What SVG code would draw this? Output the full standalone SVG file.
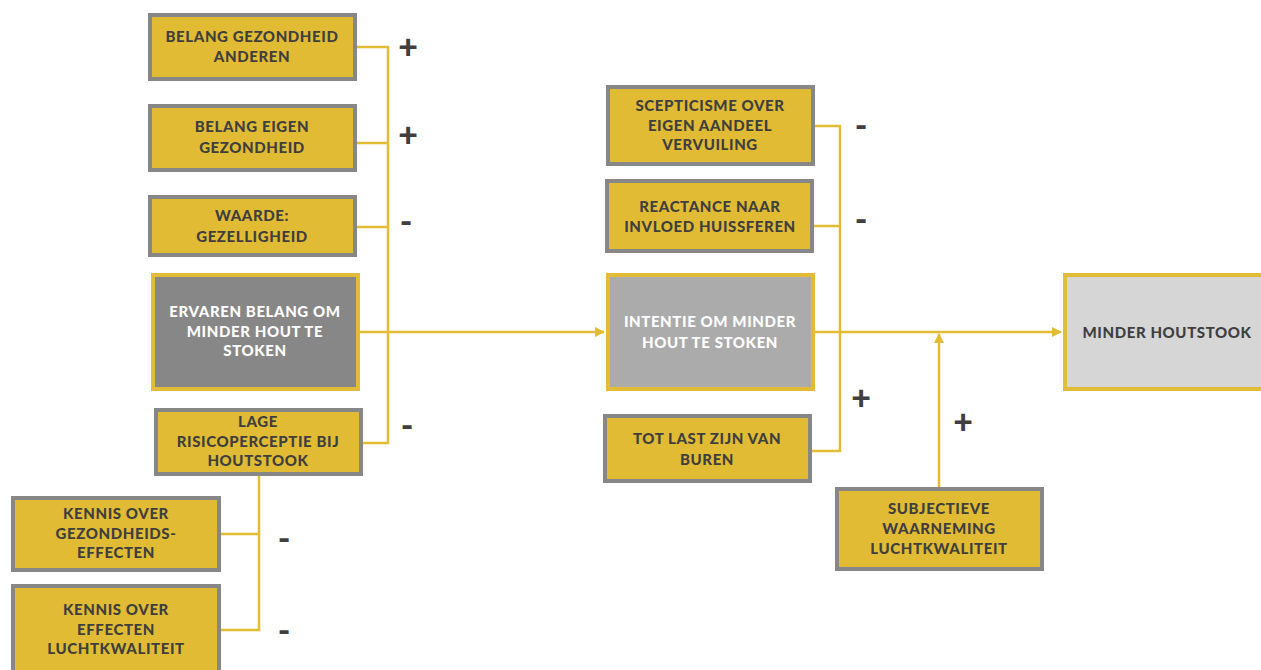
<svg xmlns="http://www.w3.org/2000/svg" width="1261" height="670" viewBox="0 0 1261 670">
<defs>
<style>
.y{fill:#E1BB33;stroke:#878787;stroke-width:4}
.d{fill:#878787;stroke:#E3BC35;stroke-width:4}
.m{fill:#ABABAB;stroke:#E3BC35;stroke-width:4}
.l{fill:#D6D6D6;stroke:#E3BC35;stroke-width:4}
text{font-family:Lato,"Open Sans",sans-serif;font-weight:900;font-size:15px;letter-spacing:0.6px;text-anchor:middle;fill:#3F3F3F}
.w{fill:#FFFFFF}
.s{font-size:34px;letter-spacing:0;fill:#3F3F3F}
.c{fill:none;stroke:#E3BC35;stroke-width:2.5}
</style>
<marker id="a" viewBox="0 0 10 10" refX="9" refY="5" markerWidth="10" markerHeight="10" markerUnits="userSpaceOnUse" orient="auto">
<path d="M0,0 L10,5 L0,10 z" fill="#E3BC35"/>
</marker>
</defs>
<rect width="1261" height="670" fill="#FFFFFF"/>
<g id="connectors">
<path class="c" d="M355,47 H388 V443 H361"/>
<path class="c" d="M355,143 H388"/>
<path class="c" d="M355,227 H388"/>
<path class="c" d="M358,332 H604" marker-end="url(#a)"/>
<path class="c" d="M259,476 V630 H219"/>
<path class="c" d="M219,534 H259"/>
<path class="c" d="M813,126 H840 V451 H810"/>
<path class="c" d="M812,226 H840"/>
<path class="c" d="M813,332 H1061" marker-end="url(#a)"/>
<path class="c" d="M939,487 V334" marker-end="url(#a)"/>
</g>
<g id="n1"><rect class="y" x="150" y="15" width="205" height="64"/><text x="252" y="42">BELANG GEZONDHEID</text><text x="252" y="62">ANDEREN</text></g>
<g id="n2"><rect class="y" x="150" y="106" width="205" height="64"/><text x="252" y="132">BELANG EIGEN</text><text x="252" y="153">GEZONDHEID</text></g>
<g id="n3"><rect class="y" x="150" y="197" width="205" height="58"/><text x="252" y="221">WAARDE:</text><text x="252" y="242">GEZELLIGHEID</text></g>
<g id="n4"><rect class="d" x="153" y="275" width="205" height="114"/><text class="w" x="255" y="317">ERVAREN BELANG OM</text><text class="w" x="255" y="337">MINDER HOUT TE</text><text class="w" x="255" y="356">STOKEN</text></g>
<g id="n5"><rect class="y" x="156" y="410" width="205" height="64"/><text x="258" y="427">LAGE</text><text x="258" y="447">RISICOPERCEPTIE BIJ</text><text x="258" y="466">HOUTSTOOK</text></g>
<g id="n6"><rect class="y" x="13" y="498" width="206" height="72"/><text x="116" y="519">KENNIS OVER</text><text x="116" y="539">GEZONDHEIDS-</text><text x="116" y="558">EFFECTEN</text></g>
<g id="n7"><rect class="y" x="13" y="586" width="206" height="90"/><text x="116" y="615">KENNIS OVER</text><text x="116" y="635">EFFECTEN</text><text x="116" y="654">LUCHTKWALITEIT</text></g>
<g id="n8"><rect class="y" x="608" y="87" width="205" height="77"/><text x="710" y="111">SCEPTICISME OVER</text><text x="710" y="131">EIGEN AANDEEL</text><text x="710" y="150">VERVUILING</text></g>
<g id="n9"><rect class="y" x="607" y="181" width="205" height="70"/><text x="710" y="212">REACTANCE NAAR</text><text x="710" y="232">INVLOED HUISSFEREN</text></g>
<g id="n10"><rect class="m" x="608" y="275" width="205" height="114"/><text class="w" x="710" y="327">INTENTIE OM MINDER</text><text class="w" x="710" y="348">HOUT TE STOKEN</text></g>
<g id="n11"><rect class="y" x="605" y="416" width="205" height="65"/><text x="707" y="444">TOT LAST ZIJN VAN</text><text x="707" y="465">BUREN</text></g>
<g id="n12"><rect class="y" x="837" y="489" width="205" height="80"/><text x="939" y="514">SUBJECTIEVE</text><text x="939" y="534">WAARNEMING</text><text x="939" y="554">LUCHTKWALITEIT</text></g>
<g id="n13"><rect class="l" x="1065" y="275" width="200" height="114"/><text x="1167" y="338">MINDER HOUTSTOOK</text></g>
<g id="signs">
<text class="s" x="408" y="59">+</text>
<text class="s" x="408" y="147">+</text>
<text class="s" x="406" y="233">-</text>
<text class="s" x="407" y="437">-</text>
<text class="s" x="284" y="550">-</text>
<text class="s" x="284" y="642">-</text>
<text class="s" x="861" y="137">-</text>
<text class="s" x="861" y="231">-</text>
<text class="s" x="861" y="410">+</text>
<text class="s" x="963" y="434">+</text>
</g>
</svg>
